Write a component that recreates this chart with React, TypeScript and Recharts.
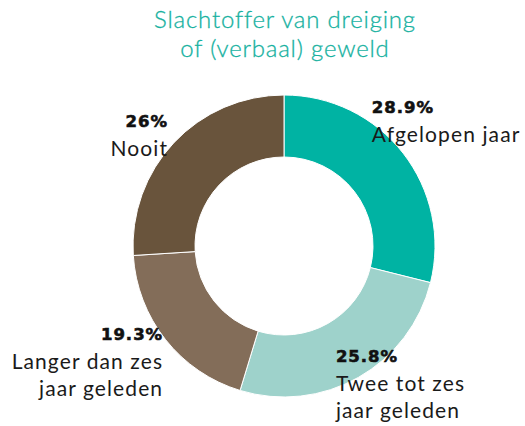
import React from 'react';
import { PieChart, Pie, Cell } from 'recharts';

const categories = ['Afgelopen jaar', 'Twee tot zes\njaar geleden', 'Langer dan zes\njaar geleden', 'Nooit'];
const values = [28.9, 25.8, 19.3, 26];
const valueLabels = ['28.9%', '25.8%', '19.3%', '26%'];
const colors = ['#00b3a3', '#9ed2cb', '#836d59', '#69543c'];
const titleLines = ['Slachtoffer van dreiging', 'of (verbaal) geweld'];

// label placement relative to each slice's mid angle
const labelLayout = [
  { r: 159, dAngle: 18.5, anchor: 'start' },
  { r: 127, dAngle: -5.4, anchor: 'start' },
  { r: 153, dAngle: -0.5, anchor: 'end' },
  { r: 166, dAngle: -2.5, anchor: 'end' },
];

const data = categories.map((name, i) => ({ name, value: values[i], label: valueLabels[i] }));

const RAD = Math.PI / 180;
const FONT = 'Lato, "Noto Sans", sans-serif';
const BOLD_FONT = '"DejaVu Sans", Lato, sans-serif';

const renderLabel = (props: any) => {
  const { cx, cy, midAngle, index } = props;
  const lay = labelLayout[index];
  const a = (midAngle + lay.dAngle) * RAD;
  const x = cx + lay.r * Math.cos(a);
  const y = cy - lay.r * Math.sin(a);
  const lines = categories[index].split('\n');
  return (
    <g>
      <text x={x} y={y} textAnchor={lay.anchor} fontFamily={BOLD_FONT} fontWeight={700} fontSize={16.5} fill="#111" stroke="#111" strokeWidth={0.6} letterSpacing={1}>
        {valueLabels[index]}
      </text>
      {lines.map((ln, j) => (
        <text key={j} x={x} y={y + 29 + j * 27} textAnchor={lay.anchor} fontFamily={FONT} fontWeight={400} fontSize={21} fill="#1a1a1a" letterSpacing={1.1}>
          {ln}
        </text>
      ))}
    </g>
  );
};

export default function App() {
  return (
    <div style={{ position: 'absolute', left: 0, top: 0, background: '#fff' }}>
      <PieChart width={525} height={426} margin={{ top: 0, right: 0, bottom: 0, left: 0 }}>
        <text x={285} y={28} textAnchor="middle" fontFamily={FONT} fontWeight={300} fontSize={24} fill="#16b19f" stroke="#16b19f" strokeWidth={0.3} letterSpacing={0.8}>
          {titleLines[0]}
        </text>
        <text x={285} y={57} textAnchor="middle" fontFamily={FONT} fontWeight={300} fontSize={24} fill="#16b19f" stroke="#16b19f" strokeWidth={0.3} letterSpacing={0.8}>
          {titleLines[1]}
        </text>
        <Pie
          data={data}
          dataKey="value"
          cx={284}
          cy={246}
          outerRadius={151}
          innerRadius={89}
          startAngle={90}
          endAngle={-270}
          stroke="#fff"
          strokeWidth={1}
          label={renderLabel}
          labelLine={false}
          isAnimationActive={false}
        >
          {data.map((d, i) => (
            <Cell key={d.name} fill={colors[i]} />
          ))}
        </Pie>
      </PieChart>
    </div>
  );
}
